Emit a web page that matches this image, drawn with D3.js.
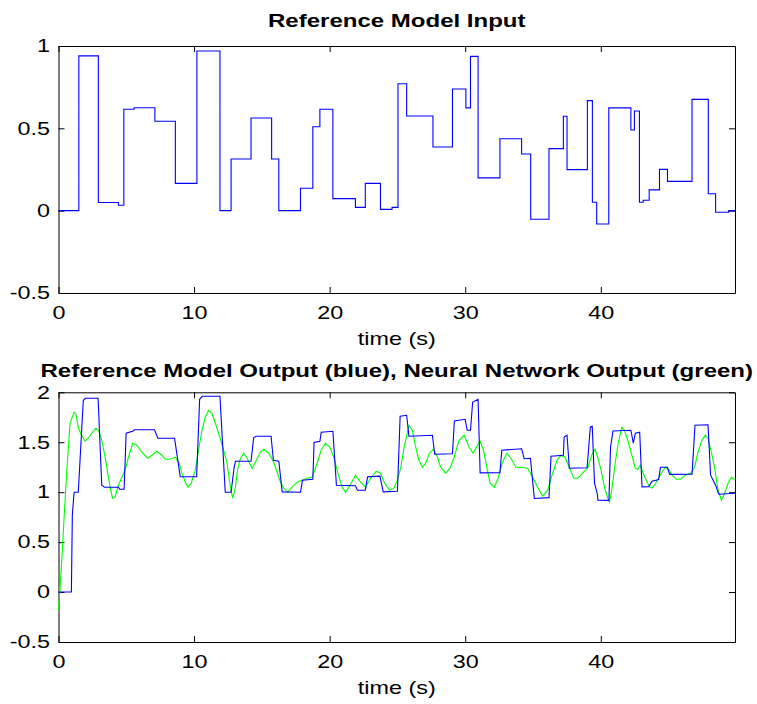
<!DOCTYPE html>
<html>
<head>
<meta charset="utf-8">
<script src="https://cdn.jsdelivr.net/npm/d3@7"></script>
<style>
  body { margin: 0; background: #fff; }
  svg { display: block; font-family: "Liberation Sans", Arial, sans-serif; }
  .tick text { font-size: 18px; fill: #000; }
  .domain, .tick line { stroke: #000; }
</style>
</head>
<body>
<svg width="757" height="704"></svg>
<script>
// reference model input: step change times and levels
const inputTimes  = [0, 1.5, 2.94, 4.42, 4.82, 5.58, 7.11, 8.62, 10.21, 11.91, 12.73, 14.2, 15.72, 16.25, 17.85, 18.76, 19.28, 20.24, 21.9, 22.63, 23.75, 24.6, 25.04, 25.68, 27.62, 29.06, 30.05, 30.39, 30.95, 32.56, 34.16, 34.83, 36.18, 37.24, 37.51, 39.01, 39.38, 39.7, 40.59, 42.22, 42.48, 42.85, 43.13, 43.57, 44.33, 44.92, 46.73, 47.93, 48.47, 49.43, 49.9];
const inputLevels = [0, 0.94, 0.05, 0.033, 0.616, 0.625, 0.543, 0.166, 0.97, 0, 0.314, 0.563, 0.314, 0, 0.136, 0.51, 0.616, 0.073, 0.02, 0.166, 0.008, 0.02, 0.771, 0.575, 0.387, 0.739, 0.624, 0.937, 0.199, 0.437, 0.344, -0.052, 0.377, 0.573, 0.249, 0.668, 0.051, -0.081, 0.624, 0.49, 0.605, 0.051, 0.063, 0.126, 0.251, 0.178, 0.676, 0.103, -0.01, 0, 0];

// reference model output (blue)
const refTimes  = [0, 0.95, 1.02, 1.15, 1.46, 1.83, 2.0, 2.92, 3.19, 3.4, 4.42, 4.5, 4.84, 4.99, 5.5, 5.6, 7.08, 7.33, 8.56, 8.98, 10.19, 10.41, 10.6, 11.91, 12.3, 12.73, 12.95, 13.05, 14.2, 14.4, 14.6, 15.68, 15.85, 16.25, 16.5, 17.85, 18.0, 18.76, 18.85, 19.28, 19.38, 20.24, 20.5, 21.9, 22.05, 22.63, 22.8, 23.71, 23.95, 25.0, 25.2, 25.68, 25.85, 27.58, 27.75, 29.06, 29.2, 29.99, 30.15, 30.39, 30.55, 30.95, 31.1, 32.56, 32.7, 34.16, 34.35, 34.81, 35.1, 36.18, 36.33, 37.24, 37.3, 37.51, 37.68, 38.99, 39.23, 39.37, 39.54, 39.74, 39.79, 40.6, 40.72, 40.9, 42.22, 42.4, 42.55, 42.87, 43.04, 43.54, 43.78, 44.27, 44.4, 44.91, 45.08, 46.73, 46.95, 47.91, 48.1, 48.47, 48.7, 49.9];
const refValues = [0, 0, 0.77, 1.0, 1.0, 1.92, 1.94, 1.94, 1.07, 1.05, 1.05, 1.03, 1.03, 1.59, 1.613, 1.625, 1.625, 1.54, 1.54, 1.155, 1.155, 1.93, 1.96, 1.96, 1.0, 1.0, 1.24, 1.31, 1.31, 1.547, 1.56, 1.56, 1.32, 1.31, 1.003, 1.0, 1.12, 1.13, 1.497, 1.51, 1.6, 1.61, 1.07, 1.065, 1.02, 1.02, 1.153, 1.16, 1.003, 1.01, 1.76, 1.77, 1.56, 1.57, 1.38, 1.385, 1.713, 1.73, 1.62, 1.62, 1.903, 1.93, 1.193, 1.195, 1.42, 1.435, 1.335, 1.34, 0.937, 0.945, 1.36, 1.37, 1.553, 1.57, 1.24, 1.245, 1.653, 1.66, 1.087, 0.987, 0.92, 0.918, 1.453, 1.613, 1.62, 1.49, 1.59, 1.6, 1.053, 1.055, 1.11, 1.127, 1.25, 1.25, 1.178, 1.18, 1.67, 1.675, 1.17, 1.07, 0.98, 0.99];

// neural network output (green)
const nnTimes  = [0, 0.09, 0.23, 0.43, 0.6, 0.85, 1.15, 1.27, 1.47, 1.71, 1.96, 2.2, 2.45, 2.75, 2.94, 3.19, 3.44, 3.63, 3.81, 3.98, 4.18, 4.37, 4.67, 4.91, 5.16, 5.48, 5.78, 6.15, 6.59, 6.89, 7.26, 7.63, 7.87, 8.24, 8.61, 8.91, 9.1, 9.35, 9.55, 9.79, 10.09, 10.33, 10.58, 10.83, 11.07, 11.32, 11.57, 11.86, 12.18, 12.43, 12.68, 12.85, 13.05, 13.2, 13.42, 13.66, 13.91, 14.28, 14.52, 14.89, 15.14, 15.51, 15.88, 16.13, 16.37, 16.62, 16.91, 17.23, 17.6, 17.97, 18.34, 18.71, 19.08, 19.37, 19.69, 20.01, 20.31, 20.6, 20.92, 21.17, 21.42, 21.91, 22.28, 22.65, 23.02, 23.44, 23.76, 24.05, 24.42, 24.74, 24.99, 25.24, 25.49, 25.85, 26.1, 26.35, 26.59, 26.84, 27.09, 27.33, 27.63, 27.9, 28.19, 28.56, 28.88, 29.18, 29.55, 29.92, 30.29, 30.59, 30.91, 31.1, 31.35, 31.6, 31.84, 32.14, 32.43, 32.75, 33.07, 33.37, 33.74, 34.11, 34.6, 34.97, 35.34, 35.71, 36.08, 36.45, 36.77, 37.07, 37.36, 37.68, 38.0, 38.3, 38.54, 38.79, 39.03, 39.33, 39.58, 39.77, 40.02, 40.27, 40.51, 40.64, 40.81, 41.06, 41.3, 41.55, 41.75, 42.05, 42.29, 42.54, 42.73, 42.9, 43.1, 43.35, 43.6, 43.77, 43.97, 44.27, 44.51, 44.76, 45.0, 45.25, 45.57, 45.89, 46.23, 46.63, 46.92, 47.17, 47.46, 47.71, 47.91, 48.15, 48.4, 48.65, 48.9, 49.14, 49.39, 49.63, 49.9];
const nnValues = [-0.18, -0.01, 0.29, 0.79, 1.19, 1.69, 1.8, 1.79, 1.64, 1.57, 1.51, 1.54, 1.59, 1.64, 1.62, 1.52, 1.35, 1.19, 1.05, 0.94, 0.95, 1.05, 1.15, 1.22, 1.35, 1.49, 1.47, 1.4, 1.34, 1.37, 1.41, 1.37, 1.33, 1.33, 1.35, 1.29, 1.19, 1.1, 1.05, 1.09, 1.22, 1.42, 1.62, 1.75, 1.82, 1.79, 1.69, 1.57, 1.42, 1.29, 1.05, 0.94, 1.05, 1.22, 1.34, 1.39, 1.34, 1.24, 1.3, 1.4, 1.43, 1.39, 1.3, 1.2, 1.1, 1.04, 1.0, 1.05, 1.1, 1.12, 1.14, 1.15, 1.29, 1.42, 1.49, 1.45, 1.35, 1.19, 1.05, 1.0, 1.05, 1.17, 1.1, 1.05, 1.14, 1.21, 1.19, 1.09, 1.02, 1.04, 1.12, 1.24, 1.45, 1.67, 1.62, 1.45, 1.32, 1.25, 1.29, 1.38, 1.43, 1.37, 1.25, 1.19, 1.24, 1.35, 1.52, 1.57, 1.45, 1.39, 1.47, 1.51, 1.42, 1.24, 1.09, 1.05, 1.14, 1.3, 1.39, 1.34, 1.25, 1.25, 1.24, 1.15, 1.05, 0.96, 1.02, 1.19, 1.32, 1.37, 1.35, 1.25, 1.14, 1.14, 1.17, 1.21, 1.24, 1.37, 1.43, 1.35, 1.22, 1.05, 0.94, 0.9, 1.02, 1.29, 1.5, 1.65, 1.62, 1.49, 1.37, 1.24, 1.23, 1.27, 1.2, 1.12, 1.05, 1.04, 1.07, 1.14, 1.2, 1.25, 1.23, 1.17, 1.13, 1.13, 1.17, 1.19, 1.25, 1.4, 1.52, 1.57, 1.54, 1.4, 1.24, 1.02, 0.92, 0.99, 1.09, 1.15, 1.13];

const xTicks = [0, 10, 20, 30, 40];
const yTicksTop = [-0.5, 0, 0.5, 1];
const yTicksBottom = [-0.5, 0, 0.5, 1, 1.5, 2];

const left = 58.5, right = 735;
const svg = d3.select("svg");

const x = d3.scaleLinear().domain([0, 49.9]).range([left, right]);

// the original figure's text is drawn wider than it is tall
const stretch = 1.3, titleStretch = 1.335;

function drawPanel(top, bottom, yDomain, yTicks, title, titleY) {
    const y = d3.scaleLinear().domain(yDomain).range([bottom, top]);
    const g = svg.append("g");

    g.append("g")
        .attr("transform", "translate(0," + bottom + ")")
        .call(d3.axisBottom(x).tickValues(xTicks).tickSizeInner(-6).tickSizeOuter(0).tickPadding(13));
    g.append("g")
        .attr("transform", "translate(0," + top + ")")
        .call(d3.axisTop(x).tickValues(xTicks).tickSizeInner(-6).tickSizeOuter(0).tickFormat(""));
    g.append("g")
        .attr("transform", "translate(" + left + ",0)")
        .call(d3.axisLeft(y).tickValues(yTicks).tickSizeInner(-6).tickSizeOuter(0).tickPadding(6.5).tickFormat(d => String(d)));
    g.append("g")
        .attr("transform", "translate(" + right + ",0)")
        .call(d3.axisRight(y).tickValues(yTicks).tickSizeInner(-6).tickSizeOuter(0).tickFormat(""));

    g.selectAll(".tick text")
        .style("font-size", "18px")
        .attr("transform", "scale(" + stretch + ",1)");

    g.append("text")
        .attr("transform", "translate(" + (left + right) / 2 + "," + (bottom + 52) + ") scale(" + stretch + ",1)")
        .attr("text-anchor", "middle")
        .style("font-size", "18px")
        .text("time (s)");

    g.append("text")
        .attr("transform", "translate(" + (left + right) / 2 + "," + titleY + ") scale(" + titleStretch + ",1)")
        .attr("text-anchor", "middle")
        .style("font-size", "18px")
        .style("font-weight", "bold")
        .text(title);

    return y;
}

const yTop = drawPanel(46, 293, [-0.5, 1], yTicksTop, "Reference Model Input", 27);
const yBot = drawPanel(392.3, 642, [-0.5, 2], yTicksBottom, "Reference Model Output (blue), Neural Network Output (green)", 377);

const inputData = inputTimes.map((t, i) => ({t: t, v: inputLevels[i]}));
const refData = refTimes.map((t, i) => ({t: t, v: refValues[i]}));
const nnData = nnTimes.map((t, i) => ({t: t, v: nnValues[i]}));

svg.append("path")
    .datum(inputData)
    .attr("fill", "none")
    .attr("stroke", "#0000ff")
    .attr("stroke-width", 1.1)
    .attr("d", d3.line().x(d => x(d.t)).y(d => yTop(d.v)).curve(d3.curveStepAfter));

svg.append("path")
    .datum(nnData)
    .attr("fill", "none")
    .attr("stroke", "#00ff00")
    .attr("stroke-width", 1.1)
    .attr("d", d3.line().x(d => x(d.t)).y(d => yBot(d.v)));

svg.append("path")
    .datum(refData)
    .attr("fill", "none")
    .attr("stroke", "#0000ff")
    .attr("stroke-width", 1.1)
    .attr("d", d3.line().x(d => x(d.t)).y(d => yBot(d.v)));
</script>
</body>
</html>
